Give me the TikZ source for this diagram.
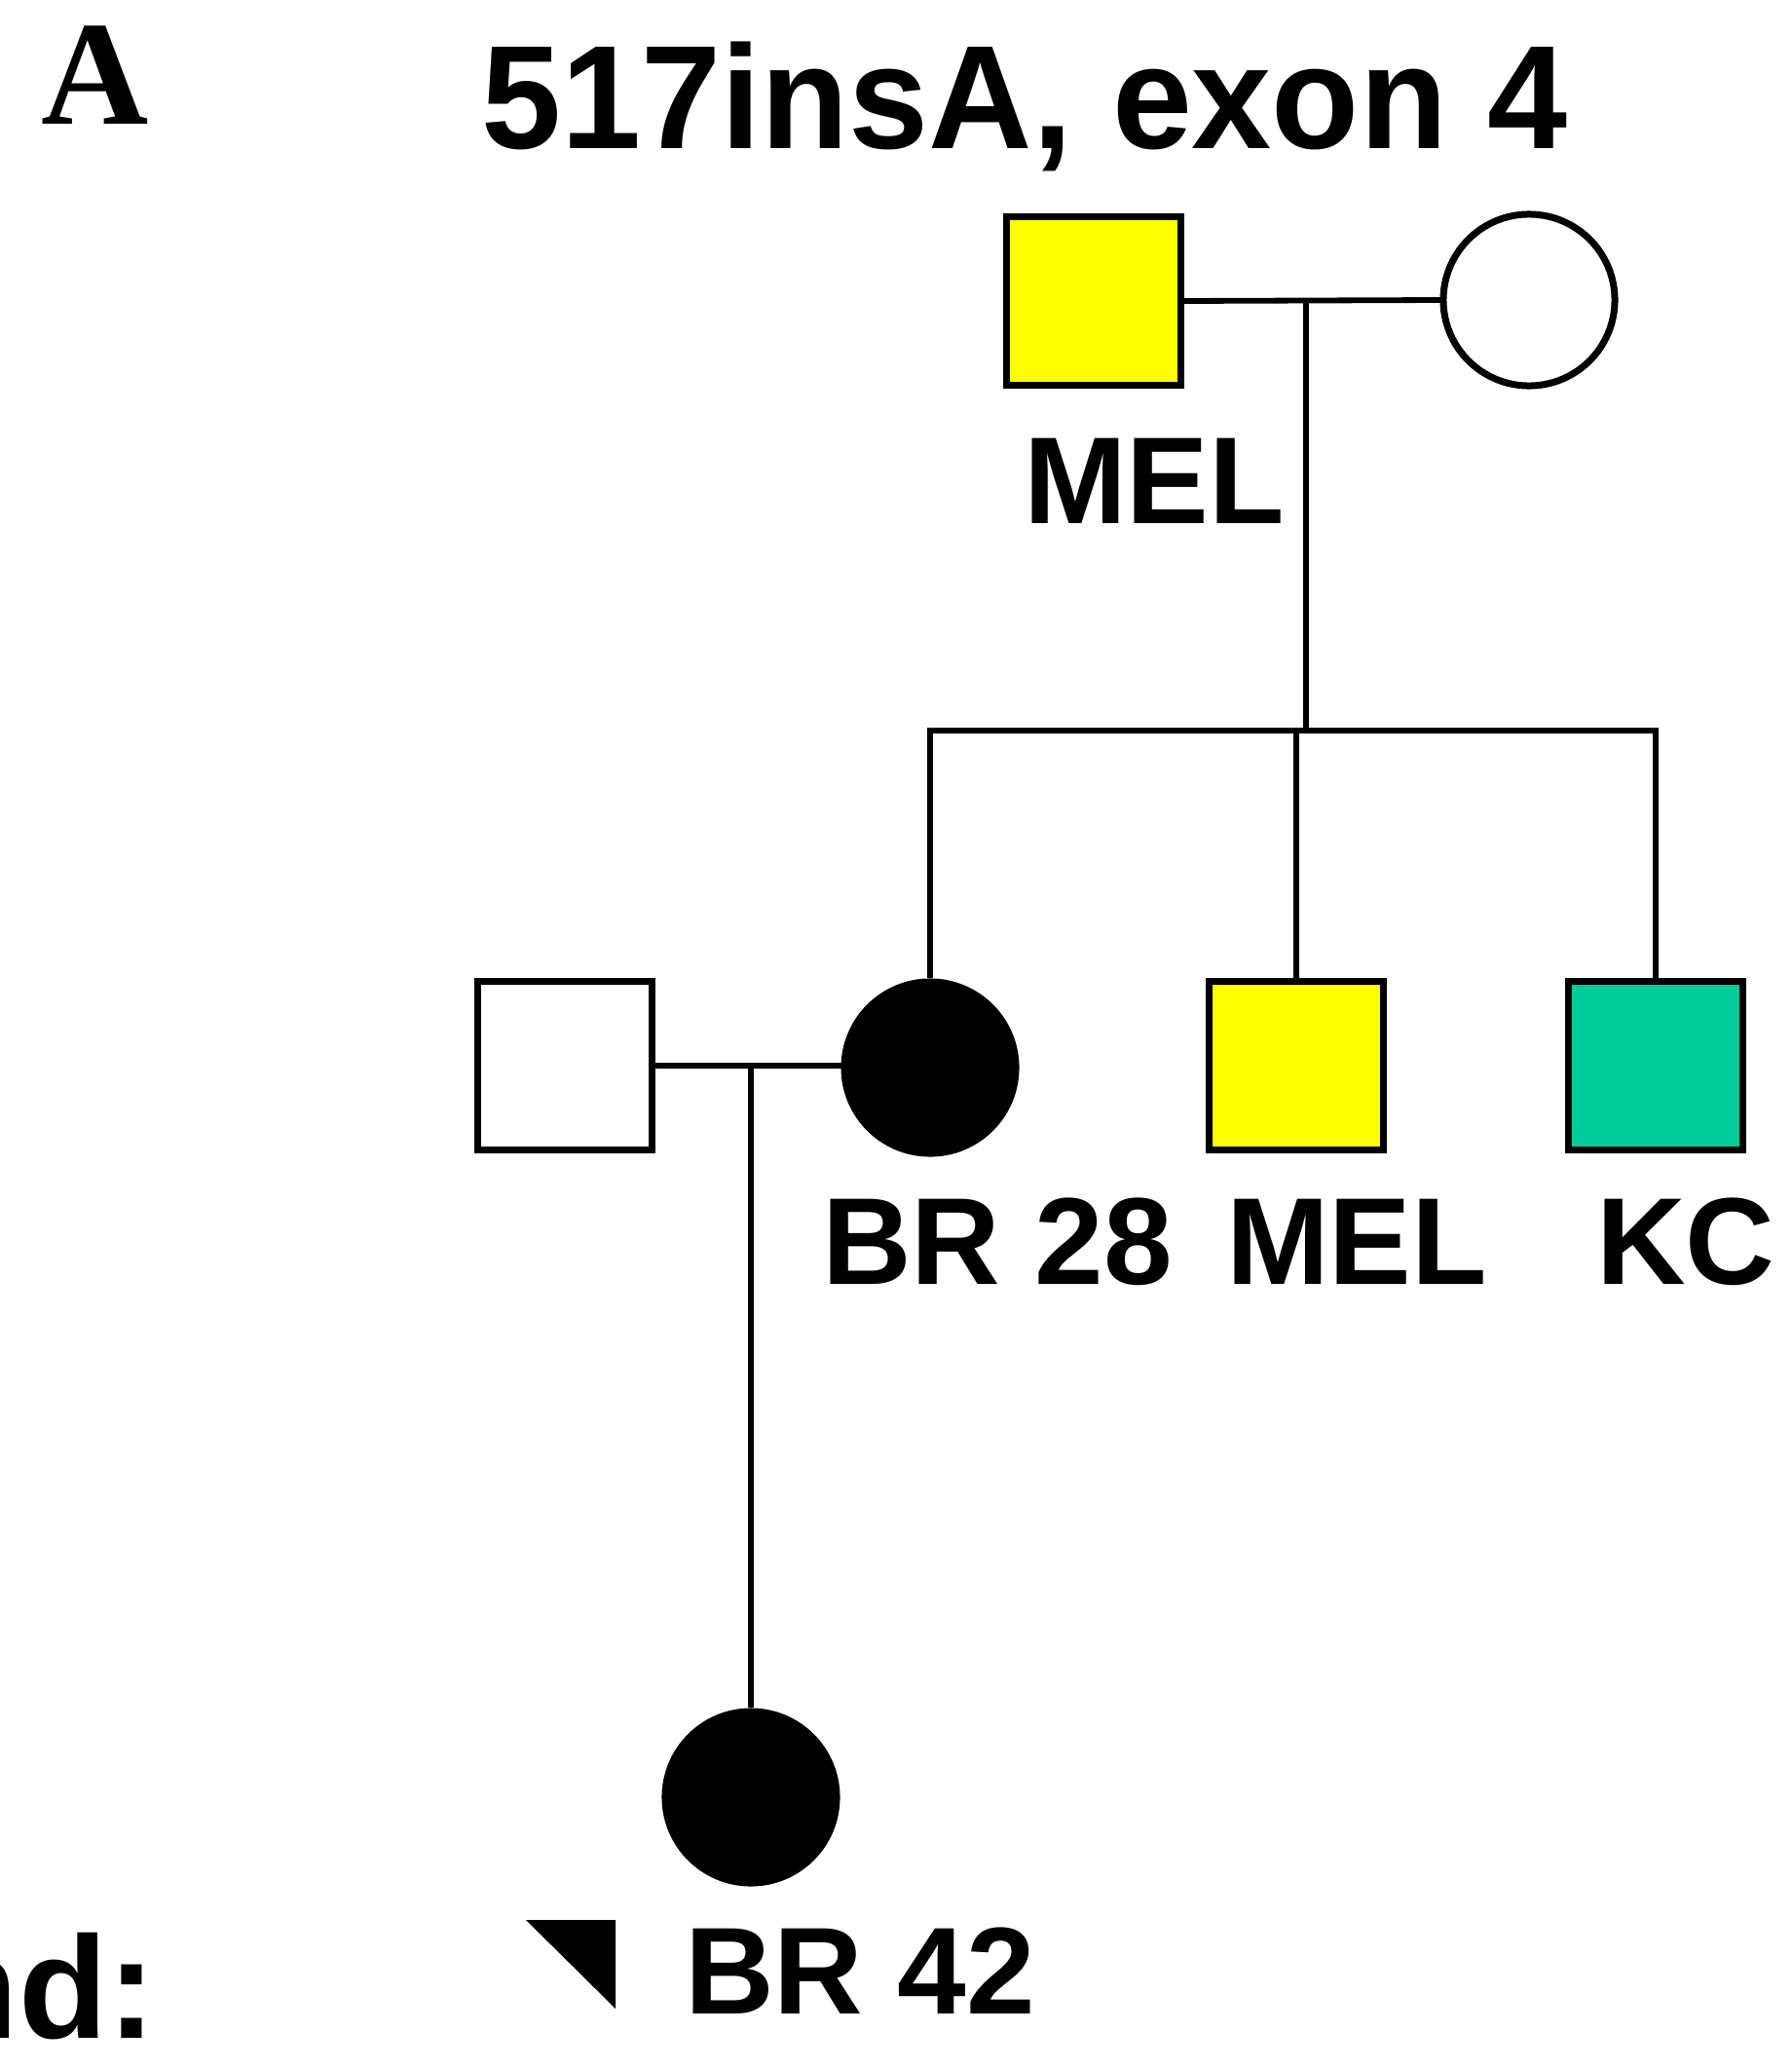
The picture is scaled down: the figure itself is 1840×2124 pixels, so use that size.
\documentclass[tikz,border=0pt]{standalone}
\usepackage{fontspec}
\setmainfont{Liberation Sans}
\newfontfamily\serifA{Liberation Serif}
\definecolor{pyellow}{HTML}{FFFF00}
\definecolor{pgreen}{HTML}{00CC99}
\begin{document}
\begin{tikzpicture}[x=0.01cm,y=-0.01cm,
  sq/.style={draw=black, line width=0.07cm, minimum width=1.78cm, minimum height=1.72cm, inner sep=0},
  ci/.style={circle, draw=black, line width=0.07cm, minimum size=1.76cm, inner sep=0},
  hl/.style={line width=0.058cm, line cap=rect},
  vl/.style={line width=0.058cm},
  lab/.style={font=\bfseries\fontsize{36.1}{40}\selectfont, inner sep=0, anchor=base}]
\useasboundingbox (0,0) rectangle (1840,2124);
\begin{scope}
\clip (0,0) rectangle (1840,2124);
% headings
\node[font=\serifA\bfseries\fontsize{43.4}{48}\selectfont, inner sep=0, anchor=base] (lblA) at (98,127) {A};
\node[font=\bfseries\fontsize{43}{48}\selectfont, inner sep=0, anchor=base] (title) at (1052,152) {\scalebox{0.975}[1]{517insA, exon 4}};
\node[font=\bfseries\fontsize{42.5}{48}\selectfont, inner sep=0, anchor=base east] (legend) at (161,2092) {nd:};
% generation I
\node[sq, fill=pyellow] (f1) at (1123,309) {};
\node[ci, fill=white] (m1) at (1570,308) {};
\draw[hl] (f1.east) -- (m1.west);
\coordinate (j1) at (1341,308);
\coordinate (sib) at (1341,750);
\draw[vl] (j1) -- (sib);
\node[lab] (lf1) at (1185,537) {MEL};
% generation II
\node[sq, fill=white] (s0) at (580,1094) {};
\node[ci, fill=black] (c1) at (955,1096) {};
\node[sq, fill=pyellow] (c2) at (1331,1094) {};
\node[sq, fill=pgreen] (c3) at (1700,1094) {};
\draw[hl] (c1 |- sib) -- (c3 |- sib);
\draw[vl] (c1 |- sib) -- (c1.north);
\draw[vl] (c2 |- sib) -- (c2.north);
\draw[vl] (c3 |- sib) -- (c3.north);
\draw[hl] (s0.east) -- (s0.east -| c1.west);
\coordinate (j2) at (771,1094);
\node[lab] (lc1) at (1024,1318) {BR 28};
\node[lab] (lc2) at (1393,1318) {MEL};
\node[lab] (lc3) at (1731,1318) {KC};
% generation III
\node[ci, fill=black] (g1) at (771,1845) {};
\draw[vl] (j2) -- (g1.north);
\fill (540,1971) -- (632,1971) -- (632,2062) -- cycle;
\node[lab] (lg1) at (883,2067) {BR 42};
\end{scope}
\end{tikzpicture}
\end{document}
